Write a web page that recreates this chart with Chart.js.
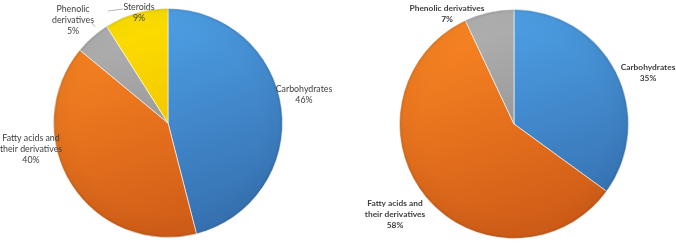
<!DOCTYPE html>
<html>
<head>
<meta charset="utf-8">
<script src="https://cdn.jsdelivr.net/npm/chart.js@4"></script>
<style>
  html, body { margin: 0; padding: 0; background: #fff; }
  #wrap { position: relative; width: 676px; height: 243px; }
  canvas { position: absolute; top: 0; }
  #leftPie { left: 0; }
  #rightPie { left: 338px; }
</style>
</head>
<body>
<div id="wrap">
  <canvas id="leftPie" width="338" height="243"></canvas>
  <canvas id="rightPie" width="338" height="243"></canvas>
</div>
<script>
// dados
const leftCategories = ['Carbohydrates', 'Fatty acids and their derivatives', 'Phenolic derivatives', 'Steroids'];
const leftValues = [46, 40, 5, 9];
const rightCategories = ['Carbohydrates', 'Fatty acids and their derivatives', 'Phenolic derivatives'];
const rightValues = [35, 58, 7];

// cores por categoria: [topo, base]
const palette = {
  'Carbohydrates': ['#52a8f0', '#3774b4'],
  'Fatty acids and their derivatives': ['#ff8a24', '#d25e18'],
  'Phenolic derivatives': ['#b8b8b8', '#868686'],
  'Steroids': ['#ffe600', '#eeb400']
};

// layout dos rótulos (linhas do texto e deslocamento a partir do centro da pizza)
const leftLabelLayout = [
  { lines: ['Carbohydrates', '46%'], dx: 136, dy: -34 },
  { lines: ['Fatty acids and', 'their derivatives', '40%'], dx: -137, dy: 15 },
  { lines: ['Phenolic', 'derivatives', '5%'], dx: -95, dy: -114 },
  { lines: ['Steroids', '9%'], dx: -29, dy: -116 }
];
const rightLabelLayout = [
  { lines: ['Carbohydrates', '35%'], dx: 134, dy: -57 },
  { lines: ['Fatty acids and', 'their derivatives', '58%'], dx: -119, dy: 79 },
  { lines: ['Phenolic derivatives', '7%'], dx: -67, dy: -116 }
];

function sliceGradient(ctx, categories) {
  const chart = ctx.chart;
  const area = chart.chartArea;
  if (!area) return palette[categories[ctx.dataIndex]][0];
  const [c1, c2] = palette[categories[ctx.dataIndex]];
  const g = chart.ctx.createLinearGradient(area.left, area.top, area.left + area.width * 0.35, area.bottom);
  g.addColorStop(0, c1);
  g.addColorStop(1, c2);
  return g;
}

// brilho/sombra nas bordas tipo Excel
const bevelPlugin = {
  id: 'bevel',
  afterDatasetsDraw(chart) {
    const arc = chart.getDatasetMeta(0).data[0];
    if (!arc) return;
    const { x, y, outerRadius } = arc;
    const c = chart.ctx;
    c.save();
    const g = c.createRadialGradient(x, y, outerRadius * 0.8, x, y, outerRadius);
    g.addColorStop(0, 'rgba(0,0,0,0)');
    g.addColorStop(0.85, 'rgba(0,0,0,0.03)');
    g.addColorStop(1, 'rgba(0,0,0,0.12)');
    c.fillStyle = g;
    c.beginPath();
    c.arc(x, y, outerRadius, 0, Math.PI * 2);
    c.fill();
    c.restore();
  }
};

const labelPlugin = {
  id: 'pieLabels',
  afterDraw(chart, args, opts) {
    const arc = chart.getDatasetMeta(0).data[0];
    if (!arc) return;
    const c = chart.ctx;
    c.save();
    c.fillStyle = '#404040';
    c.font = (opts.bold ? 'bold 8.4px ' : '8.8px ') + 'Lato, "Open Sans", sans-serif';
    c.textAlign = 'center';
    c.textBaseline = 'middle';
    opts.layout.forEach(l => {
      l.lines.forEach((t, i) => {
        c.fillText(t, arc.x + l.dx, arc.y + l.dy + i * 11);
      });
    });
    // linhas guia
    if (opts.leaders) {
      c.strokeStyle = '#a6a6a6';
      c.lineWidth = 0.8;
      opts.leaders.forEach(p => {
        c.beginPath();
        c.moveTo(arc.x + p[0], arc.y + p[1]);
        c.lineTo(arc.x + p[2], arc.y + p[3]);
        c.stroke();
      });
    }
    c.restore();
  }
};

function makePie(id, categories, values, padding, layout, bold, leaders) {
  return new Chart(document.getElementById(id), {
    type: 'pie',
    data: {
      labels: categories,
      datasets: [{
        data: values,
        backgroundColor: ctx => sliceGradient(ctx, categories),
        borderColor: 'rgba(255,255,255,0.6)',
        borderWidth: 1
      }]
    },
    options: {
      responsive: false,
      animation: false,
      layout: { padding },
      plugins: {
        legend: { display: false },
        tooltip: { enabled: false },
        pieLabels: { layout, bold, leaders }
      }
    },
    plugins: [bevelPlugin, labelPlugin]
  });
}

makePie('leftPie', leftCategories, leftValues,
  { top: 8, bottom: 5, left: 53, right: 55 }, leftLabelLayout, false,
  [[-60, -112, -45, -114], [-76, -100, -73, -96]]);
makePie('rightPie', rightCategories, rightValues,
  { top: 9, bottom: 4, left: 61, right: 47 }, rightLabelLayout, true, null);
</script>
</body>
</html>
